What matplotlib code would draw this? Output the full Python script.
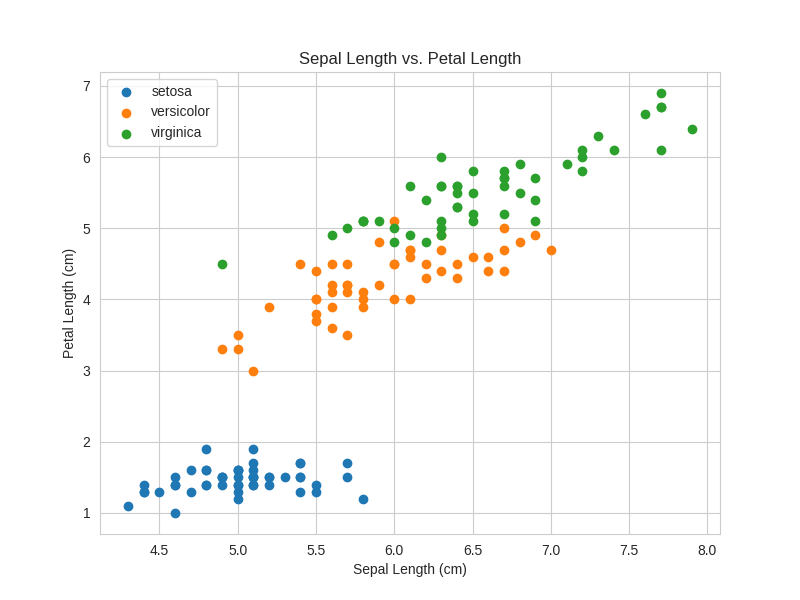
import matplotlib
matplotlib.use("Agg")
import matplotlib.pyplot as plt
import seaborn as sns

setosa_sl = [5.1,4.9,4.7,4.6,5.0,5.4,4.6,5.0,4.4,4.9,5.4,4.8,4.8,4.3,5.8,5.7,5.4,5.1,5.7,5.1,5.4,5.1,4.6,5.1,4.8,5.0,5.0,5.2,5.2,4.7,4.8,5.4,5.2,5.5,4.9,5.0,5.5,4.9,4.4,5.1,5.0,4.5,4.4,5.0,5.1,4.8,5.1,4.6,5.3,5.0]
setosa_pl = [1.4,1.4,1.3,1.5,1.4,1.7,1.4,1.5,1.4,1.5,1.5,1.6,1.4,1.1,1.2,1.5,1.3,1.4,1.7,1.5,1.7,1.5,1.0,1.7,1.9,1.6,1.6,1.5,1.4,1.6,1.6,1.5,1.5,1.4,1.5,1.2,1.3,1.5,1.3,1.5,1.3,1.3,1.3,1.6,1.9,1.4,1.6,1.4,1.5,1.4]
versicolor_sl = [7.0,6.4,6.9,5.5,6.5,5.7,6.3,4.9,6.6,5.2,5.0,5.9,6.0,6.1,5.6,6.7,5.6,5.8,6.2,5.6,5.9,6.1,6.3,6.1,6.4,6.6,6.8,6.7,6.0,5.7,5.5,5.5,5.8,6.0,5.4,6.0,6.7,6.3,5.6,5.5,5.5,6.1,5.8,5.0,5.6,5.7,5.7,6.2,5.1,5.7]
versicolor_pl = [4.7,4.5,4.9,4.0,4.6,4.5,4.7,3.3,4.6,3.9,3.5,4.2,4.0,4.7,3.6,4.4,4.5,4.1,4.5,3.9,4.8,4.0,4.9,4.7,4.3,4.4,4.8,5.0,4.5,3.5,3.8,3.7,3.9,5.1,4.5,4.5,4.7,4.4,4.1,4.0,4.4,4.6,4.0,3.3,4.2,4.2,4.2,4.3,3.0,4.1]
virginica_sl = [6.3,5.8,7.1,6.3,6.5,7.6,4.9,7.3,6.7,7.2,6.5,6.4,6.8,5.7,5.8,6.4,6.5,7.7,7.7,6.0,6.9,5.6,7.7,6.3,6.7,7.2,6.2,6.1,6.4,7.2,7.4,7.9,6.4,6.3,6.1,7.7,6.3,6.4,6.0,6.9,6.7,6.9,5.8,6.8,6.7,6.7,6.3,6.5,6.2,5.9]
virginica_pl = [6.0,5.1,5.9,5.6,5.8,6.6,4.5,6.3,5.8,6.1,5.1,5.3,5.5,5.0,5.1,5.3,5.5,6.7,6.9,5.0,5.7,4.9,6.7,4.9,5.7,6.0,4.8,4.9,5.6,5.8,6.1,6.4,5.6,5.1,5.6,6.1,5.6,5.5,4.8,5.4,5.6,5.1,5.1,5.9,5.7,5.2,5.0,5.2,5.4,5.1]

species = {
    "setosa": (setosa_sl, setosa_pl),
    "versicolor": (versicolor_sl, versicolor_pl),
    "virginica": (virginica_sl, virginica_pl),
}

sns.set_style("whitegrid")
plt.rcParams['font.family'] = ['Liberation Sans', 'DejaVu Sans']

fig, ax = plt.subplots(figsize=(8, 6), dpi=100)
for name, (x, y) in species.items():
    ax.scatter(x, y, label=name)

ax.set_xlabel("Sepal Length (cm)")
ax.set_ylabel("Petal Length (cm)")
ax.set_title("Sepal Length vs. Petal Length")
ax.legend(frameon=True, loc="upper left")
fig.savefig("out.png")
